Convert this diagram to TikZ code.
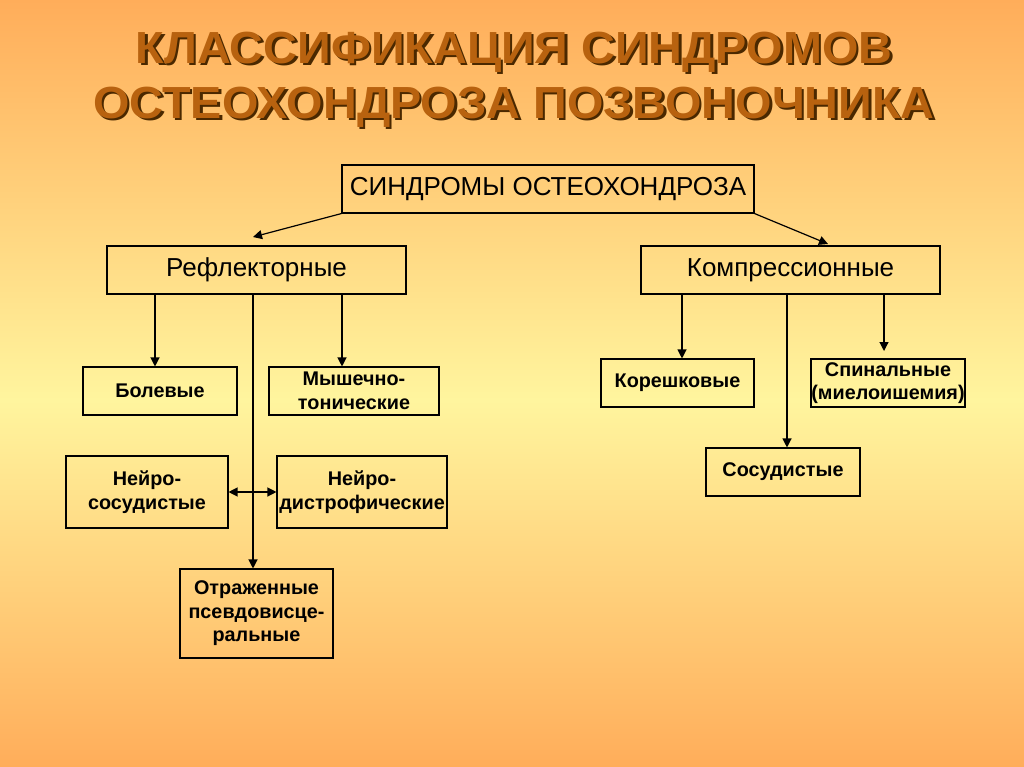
\documentclass[tikz,border=0pt]{standalone}
\usepackage{fontspec}
\setmainfont{Liberation Sans}
\usetikzlibrary{arrows.meta}
\definecolor{bgorange}{HTML}{FFAD5A}
\definecolor{bgyellow}{HTML}{FFF59E}
\definecolor{titlecol}{HTML}{B8620F}
\definecolor{titleshadow}{HTML}{4A2800}
\newcommand\shadowed[1]{\leavevmode\rlap{\hspace{2.5pt}\raisebox{-2.5pt}{\textcolor{titleshadow}{#1}}}\textcolor{titlecol}{#1}}
\begin{document}
\begin{tikzpicture}[x=1pt,y=-1pt,
  box/.style={draw=black,line width=1.1pt,inner sep=0pt,align=center},
  bigbox/.style={box,font=\fontsize{26}{30}\selectfont},
  leaf/.style={box,font=\bfseries\fontsize{19.8}{23.5}\selectfont},
  arr/.style={line width=1.2pt,-{Triangle[length=9pt,width=9pt]}},
  darr/.style={line width=1.2pt,{Triangle[length=9pt,width=9pt]}-{Triangle[length=9pt,width=9pt]}},
  ttl/.style={font=\bfseries\fontsize{45}{55}\selectfont,align=center,xscale=1.04}]
\useasboundingbox (0,0) rectangle (1024,767);
\fill[top color=bgorange,bottom color=bgyellow] (0,0) rectangle (1024,400);
\fill[top color=bgyellow,bottom color=bgorange] (0,400) rectangle (1024,767);
% title
\node[ttl] (title) at (514,81) {\shadowed{КЛАССИФИКАЦИЯ СИНДРОМОВ}\\\shadowed{ОСТЕОХОНДРОЗА ПОЗВОНОЧНИКА}};
% boxes
\node[bigbox,minimum width=412pt,minimum height=48pt] (top) at (548,189) {СИНДРОМЫ ОСТЕОХОНДРОЗА};
\node[bigbox,minimum width=299pt,minimum height=48pt] (refl) at (256.5,270) {Рефлекторные};
\node[bigbox,minimum width=299pt,minimum height=48pt] (comp) at (790.5,270) {Компрессионные};
\node[leaf,minimum width=154pt,minimum height=48pt] (bol) at (160,391) {Болевые};
\node[leaf,minimum width=170pt,minimum height=48pt] (mysh) at (354,391) {Мышечно-\\тонические};
\node[leaf,minimum width=162pt,minimum height=72pt] (nsos) at (147,492) {Нейро-\\сосудистые};
\node[leaf,minimum width=170pt,minimum height=72pt] (ndis) at (362,492) {Нейро-\\дистрофические};
\node[leaf,minimum width=153pt,minimum height=89pt] (otr) at (256.5,613.5) {Отраженные\\псевдовисце-\\ральные};
\node[leaf,minimum width=153pt,minimum height=48pt] (kor) at (677.5,383) {Корешковые};
\node[leaf,minimum width=154pt,minimum height=48pt] (spin) at (888,383) {Спинальные\\(миелоишемия)};
\node[leaf,minimum width=154pt,minimum height=48pt] (sos) at (783,472) {Сосудистые};
% free ends
\coordinate (tl) at (253,237);
\coordinate (tr) at (828,244);
\coordinate (sp) at (884,351);
% connectors
\draw[arr] (top.south west) -- (tl);
\draw[arr] (top.south east) -- (tr);
\draw[arr] (155,0 |- refl.south) -- (155,0 |- bol.north);
\draw[arr] (342,0 |- refl.south) -- (342,0 |- mysh.north);
\draw[arr] (253,0 |- refl.south) -- (253,0 |- otr.north);
\draw[darr] (nsos.east) -- (ndis.west);
\draw[arr] (682,0 |- comp.south) -- (682,0 |- kor.north);
\draw[arr] (787,0 |- comp.south) -- (787,0 |- sos.north);
\draw[arr] (884,0 |- comp.south) -- (sp);
\end{tikzpicture}
\end{document}
